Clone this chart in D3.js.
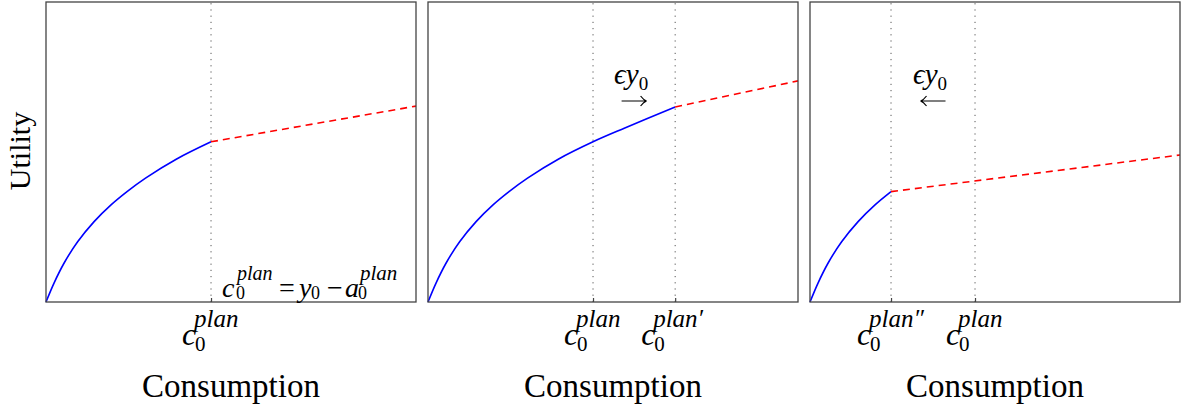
<!DOCTYPE html>
<html>

<head>
    <title>Consumption utility panels</title>
    <style>
        body {
            margin: 0;
            background: white;
        }

        text {
            font-family: "Liberation Serif", "DejaVu Serif", serif;
            fill: black;
        }

        .math {
            font-style: italic;
        }

        .frame {
            fill: none;
            stroke: #444;
            stroke-width: 1.3px;
        }

        .guide {
            stroke: #555;
            stroke-width: 1px;
            stroke-dasharray: 1.2 5;
        }
    </style>
</head>

<body>
    <svg width="1185" height="410"></svg>

    <script src="https://d3js.org/d3.v7.min.js"></script>

    <script>
        // utility curve (consumption, utility on a 0..10 scale)
        const consPoints = [0, 0.22, 0.49, 0.85, 1.3, 1.75, 2.19, 2.69, 3.52, 4.46, 5.32, 6.68];
        const utilPoints = [0, 0.64, 1.3, 2.0, 2.68, 3.23, 3.68, 4.13, 4.76, 5.34, 5.8, 6.5];

        // where the blue part stops in each panel, and where the dashed part ends
        const planCons = [4.46, 6.68, 2.19];
        const dashEndCons = [10, 10, 10];
        const dashEndUtil = [6.53, 7.37, 4.9];

        // dotted guide lines and their labels
        const markCons = [[4.46], [4.46, 6.68], [2.19, 4.46]];
        const markLabels = [["plan"], ["plan", "plan\u2032"], ["plan\u2033", "plan"]];

        // direction of the epsilon shift (none in the first panel)
        const shiftDir = [0, 1, -1];

        const panelLeft = [46, 428, 810];
        const panelW = 370, plotTop = 2, plotBottom = 302;

        const svg = d3.select("svg");

        const curve = consPoints.map((c, i) => ({ c, u: utilPoints[i] }));

        panelLeft.forEach((left, p) => {
            const x = d3.scaleLinear().domain([0, 10]).range([left, left + panelW]);
            const y = d3.scaleLinear().domain([0, 10]).range([plotBottom, plotTop]);
            const g = svg.append("g");

            // dotted guides
            g.selectAll(".guide")
                .data(markCons[p])
                .enter().append("line")
                .attr("class", "guide")
                .attr("x1", d => x(d)).attr("x2", d => x(d))
                .attr("y1", y(0)).attr("y2", y(10));

            // small inward ticks on the bottom edge
            const axis = d3.axisBottom(x)
                .tickValues(markCons[p])
                .tickSize(-4)
                .tickFormat("");
            const ax = g.append("g")
                .attr("transform", `translate(0,${plotBottom})`)
                .call(axis);
            ax.select(".domain").remove();
            ax.selectAll("line").attr("stroke", "#444").attr("stroke-width", 1.2);

            // blue utility up to plan consumption
            const blue = curve.filter(d => d.c <= planCons[p] + 1e-9);
            const line = d3.line()
                .x(d => x(d.c))
                .y(d => y(d.u))
                .curve(d3.curveCatmullRom.alpha(0.5));

            g.append("path")
                .datum(blue)
                .attr("d", line)
                .attr("fill", "none")
                .attr("stroke", "blue")
                .attr("stroke-width", 1.6);

            // red dashed continuation
            const last = blue[blue.length - 1];
            g.append("path")
                .datum([last, { c: dashEndCons[p], u: dashEndUtil[p] }])
                .attr("d", d3.line().x(d => x(d.c)).y(d => y(d.u)))
                .attr("fill", "none")
                .attr("stroke", "red")
                .attr("stroke-width", 1.6)
                .attr("stroke-dasharray", "7 5");

            g.append("rect")
                .attr("class", "frame")
                .attr("x", left).attr("y", plotTop)
                .attr("width", panelW).attr("height", plotBottom - plotTop);

            // c_0^{plan} tick labels
            markCons[p].forEach((m, k) => {
                const tx = x(m) + (markLabels[p][k].length > 4 ? -5 : 0);
                const t = g.append("text").attr("x", tx - 29).attr("y", 345);
                t.append("tspan").attr("class", "math").style("font-size", "32px").text("c");
                t.append("tspan").attr("class", "math")
                    .attr("x", tx - 17).attr("y", 327)
                    .style("font-size", "25px").text(markLabels[p][k]);
                t.append("tspan")
                    .attr("x", tx - 16).attr("y", 351)
                    .style("font-size", "21px").text("0");
            });

            // epsilon y0 with arrow
            if (shiftDir[p]) {
                const mid = (x(markCons[p][0]) + x(markCons[p][1])) / 2;
                const lab = g.append("text")
                    .attr("x", mid - 20).attr("y", 84);
                lab.append("tspan").attr("class", "math").style("font-size", "29px").text("\u03f5y");
                lab.append("tspan").attr("dy", 6).style("font-size", "19px").text("0");

                const d = shiftDir[p], half = 12.5, ay = 101;
                const tip = mid + d * half;
                g.append("path")
                    .attr("d", `M${mid - d * half},${ay}H${tip}` +
                        `M${tip - d * 6},${ay - 5}Q${tip - d * 3},${ay - 1} ${tip},${ay}` +
                        `M${tip - d * 6},${ay + 5}Q${tip - d * 3},${ay + 1} ${tip},${ay}`)
                    .attr("fill", "none")
                    .attr("stroke", "black")
                    .attr("stroke-width", 1.2);
            }

            g.append("text")
                .attr("x", left + panelW / 2).attr("y", 397)
                .attr("text-anchor", "middle")
                .style("font-size", "33px")
                .text("Consumption");
        });

        // identity note in the first panel
        const note = svg.append("text").attr("x", 222).attr("y", 297);
        note.append("tspan").attr("class", "math").style("font-size", "28px").text("c");
        note.append("tspan").attr("class", "math").attr("x", 237).attr("y", 280).style("font-size", "20px").text("plan");
        note.append("tspan").attr("x", 236).attr("y", 299).style("font-size", "18px").text("0");
        note.append("tspan").attr("x", 279).attr("y", 297).style("font-size", "28px").text("=");
        note.append("tspan").attr("class", "math").attr("x", 299).style("font-size", "28px").text("y");
        note.append("tspan").attr("x", 311).attr("y", 299).style("font-size", "18px").text("0");
        note.append("tspan").attr("x", 327).attr("y", 297).style("font-size", "28px").text("\u2212");
        note.append("tspan").attr("class", "math").attr("x", 345).style("font-size", "28px").text("a");
        note.append("tspan").attr("class", "math").attr("x", 360).attr("y", 280).style("font-size", "21px").text("plan");
        note.append("tspan").attr("x", 358).attr("y", 299).style("font-size", "18px").text("0");

        svg.append("text")
            .attr("transform", "translate(30,151) rotate(-90)")
            .attr("text-anchor", "middle")
            .style("font-size", "30px")
            .text("Utility");
    </script>
</body>

</html>
